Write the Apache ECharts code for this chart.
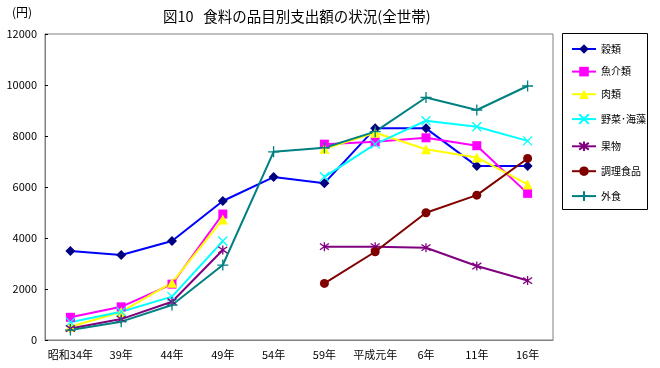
<!DOCTYPE html>
<html><head><meta charset="utf-8">
<script src="https://cdn.jsdelivr.net/npm/echarts@6/dist/echarts.min.js"></script>
<style>html,body{margin:0;padding:0;background:#fff}#c{width:660px;height:368px}</style>
</head><body><div id="c"></div>
<script>
const categories = ['昭和34年','39年','44年','49年','54年','59年','平成元年','6年','11年','16年'];
const kokurui  = [3490, 3330, 3880, 5450, 6390, 6150, 8300, 8300, 6820, 6820];
const gyokai   = [890, 1300, 2190, 4940, null, 7680, 7770, 7930, 7620, 5750];
const niku     = [520, 1100, 2250, 4730, null, 7500, 8130, 7480, 7160, 6100];
const yasai    = [700, 1110, 1700, 3880, null, 6400, 7680, 8600, 8360, 7810];
const kudamono = [450, 820, 1500, 3530, null, 3660, 3660, 3620, 2900, 2330];
const chori    = [null, null, null, null, null, 2220, 3460, 4990, 5680, 7120];
const gaishoku = [390, 720, 1370, 2940, 7380, 7540, 8170, 9510, 9020, 9960];
const seriesNames = ['穀類','魚介類','肉類','野菜･海藻','果物','調理食品','外食'];
const yTicks = {min: 0, max: 12000, interval: 2000};

const font = '"Noto Sans CJK JP", sans-serif';
const X = 'path://M0,0L10,10M10,0L0,10';
const STAR = 'path://M5,0L5,10M0,1.5L10,8.5M10,1.5L0,8.5';
const PLUS = 'path://M5,0L5,10M0,5L10,5';

function mk(name, data, color, sym, size, mcolor, stroke) {
  const s = {
    name, type: 'line', data, connectNulls: false, symbol: sym, symbolSize: size,
    lineStyle: {color, width: 2}, itemStyle: {color: mcolor || color},
    animation: false
  };
  if (stroke) { s.itemStyle = {color: 'none', borderColor: mcolor || color, borderWidth: 1.3}; }
  return s;
}

const chart = echarts.init(document.getElementById('c'), null, {renderer: 'canvas'});
chart.setOption({
  backgroundColor: '#fff',
  animation: false,
  textStyle: {fontFamily: font},
  grid: {left: 45, top: 34, right: 107, bottom: 28, show: true, borderColor: '#808080', borderWidth: 1},
  graphic: [
    {type: 'text', left: 12, top: 6, style: {text: '(円)', font: '12px ' + font, fill: '#000'}},
    {type: 'text', left: 163, top: 9, style: {text: '図10   食料の品目別支出額の状況(全世帯)', font: '14.5px ' + font, fill: '#000'}},
    {type: 'rect', shape: {x: 562.5, y: 33.5, width: 85, height: 176}, style: {fill: 'none', stroke: '#000', lineWidth: 1}}
  ],
  legend: {
    orient: 'vertical', left: 566, top: 39, itemWidth: 24, itemHeight: 12, itemGap: 12.6,
    textStyle: {fontFamily: font, fontSize: 10, color: '#000'},
    data: seriesNames
  },
  xAxis: {
    type: 'category', data: categories, boundaryGap: true,
    axisLine: {lineStyle: {color: '#808080'}},
    axisTick: {inside: true, length: 3, lineStyle: {color: '#000'}},
    axisLabel: {color: '#000', fontSize: 11, fontFamily: font, interval: 0, margin: 9},
    splitLine: {show: false}
  },
  yAxis: {
    type: 'value', min: yTicks.min, max: yTicks.max, interval: yTicks.interval,
    axisLine: {show: true, lineStyle: {color: '#808080'}},
    axisTick: {show: true, inside: true, length: 3, lineStyle: {color: '#000'}},
    axisLabel: {color: '#000', fontSize: 11, fontFamily: font, margin: 8, formatter: v => String(v)},
    splitLine: {show: false}
  },
  series: [
    mk(seriesNames[0], kokurui, '#0000FF', 'diamond', 10, '#000080'),
    mk(seriesNames[1], gyokai, '#FF00FF', 'rect', 9),
    mk(seriesNames[2], niku, '#FFFF00', 'triangle', 10),
    mk(seriesNames[3], yasai, '#00FFFF', X, 9, null, true),
    mk(seriesNames[4], kudamono, '#800080', STAR, 9, null, true),
    mk(seriesNames[5], chori, '#800000', 'circle', 9, '#800000'),
    mk(seriesNames[6], gaishoku, '#008080', PLUS, 11, null, true)
  ]
});
</script></body></html>
